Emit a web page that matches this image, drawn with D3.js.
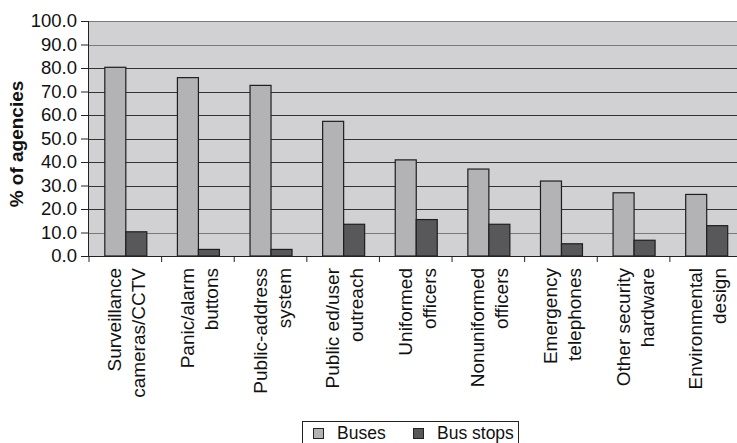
<!DOCTYPE html>
<html><head><meta charset="utf-8">
<script src="https://cdn.jsdelivr.net/npm/d3@7"></script>
<style>body{margin:0;background:#fff;overflow:hidden}svg{display:block}</style>
</head><body>
<svg id="c" width="737" height="443"></svg>
<script>
const categories = [
  ["Surveillance","cameras/CCTV"],
  ["Panic/alarm","buttons"],
  ["Public-address","system"],
  ["Public ed/user","outreach"],
  ["Uniformed","officers"],
  ["Nonuniformed","officers"],
  ["Emergency","telephones"],
  ["Other security","hardware"],
  ["Environmental","design"]
];
const seriesNames = ["Buses","Bus stops"];
const buses    = [80.3, 75.9, 72.6, 57.3, 40.9, 37.0, 31.9, 26.9, 26.2];
const busStops = [10.3, 2.8, 2.8, 13.5, 15.5, 13.5, 5.2, 6.7, 12.9];
const yTicks = [0,10,20,30,40,50,60,70,80,90,100];

const colors = ["#b3b3b5","#58585a"];
const font = "'Liberation Sans', Arial, sans-serif";
const svg = d3.select("#c");
const L = 89, R = 742.5, T = 21, B = 256;

const x = d3.scaleBand().domain(d3.range(categories.length)).range([L, R]).paddingInner(0).paddingOuter(0);
const y = d3.scaleLinear().domain([0,100]).range([B, T]);
const barW = 21;

svg.append("rect").attr("x", L).attr("y", T).attr("width", R - L).attr("height", B - T).attr("fill", "#d1d1d3");

// gridlines
svg.append("g").selectAll("line").data(yTicks.filter(d => d > 0)).join("line")
  .attr("x1", L).attr("x2", R).attr("y1", d => Math.round(y(d)) + 0.5).attr("y2", d => Math.round(y(d)) + 0.5)
  .attr("stroke", d => (d === 100 || d === 90 || d === 10) ? "#7a7a7a" : "#333").attr("stroke-width", 1);

// bars
const data = categories.map((c, i) => ({i, vals: [buses[i], busStops[i]]}));
const g = svg.append("g");
data.forEach(d => {
  const cx = x(d.i) + x.bandwidth() / 2;
  d.vals.forEach((v, k) => {
    g.append("rect")
      .attr("x", cx - barW + k * barW + 0.5)
      .attr("y", y(v))
      .attr("width", barW)
      .attr("height", B - y(v))
      .attr("fill", colors[k])
      .attr("stroke", "#1e1e1e").attr("stroke-width", 1.2);
  });
});

// y axis
const yAxis = d3.axisLeft(y).tickValues(yTicks).tickFormat(d3.format(".1f")).tickSize(8).tickPadding(4);
const ya = svg.append("g").attr("transform", `translate(${L},0)`).call(yAxis);
ya.select(".domain").attr("stroke", "#222").attr("d", `M-0.5,${T}V${B}`);
ya.selectAll(".tick line").attr("stroke", "#222");
ya.selectAll("text").attr("font-family", font).attr("font-size", 18.5).attr("fill", "#111");

// x axis
const xa = svg.append("g").attr("transform", `translate(0,${B})`);
xa.append("line").attr("x1", L - 8).attr("x2", R).attr("y1", 0.5).attr("y2", 0.5).attr("stroke", "#222");
const bounds = d3.range(categories.length + 1).map(i => L + i * x.step());
xa.selectAll("line.t").data(bounds).join("line").attr("class", "t")
  .attr("x1", d => d).attr("x2", d => d).attr("y1", 0).attr("y2", 6).attr("stroke", "#222");

// category labels
categories.forEach((lines, i) => {
  const cx = x(i) + x.bandwidth() / 2;
  lines.forEach((t, j) => {
    svg.append("text")
      .attr("transform", `translate(${cx - 4 + j * 24},${268}) rotate(-90)`)
      .attr("text-anchor", "end")
      .attr("font-family", font).attr("font-size", 19).attr("fill", "#111")
      .text(t);
  });
});

// y title
svg.append("text")
  .attr("transform", `translate(23,${144}) rotate(-90)`)
  .attr("text-anchor", "middle")
  .attr("font-family", font).attr("font-size", 19).attr("font-weight", "bold").attr("fill", "#111")
  .text("% of agencies");

// legend
const lg = svg.append("g");
lg.append("rect").attr("x", 302.5).attr("y", 421.5).attr("width", 216).attr("height", 30)
  .attr("fill", "#fff").attr("stroke", "#222").attr("stroke-width", 1);
const legPos = [{sx: 313, tx: 337}, {sx: 413, tx: 437}];
seriesNames.forEach((n, k) => {
  lg.append("rect").attr("x", legPos[k].sx + 0.5).attr("y", 428.5).attr("width", 10).attr("height", 10)
    .attr("fill", colors[k]).attr("stroke", "#222");
  lg.append("text").attr("x", legPos[k].tx).attr("y", 439)
    .attr("font-family", font).attr("font-size", 17.5).attr("fill", "#111").text(n);
});
</script>
</body></html>
